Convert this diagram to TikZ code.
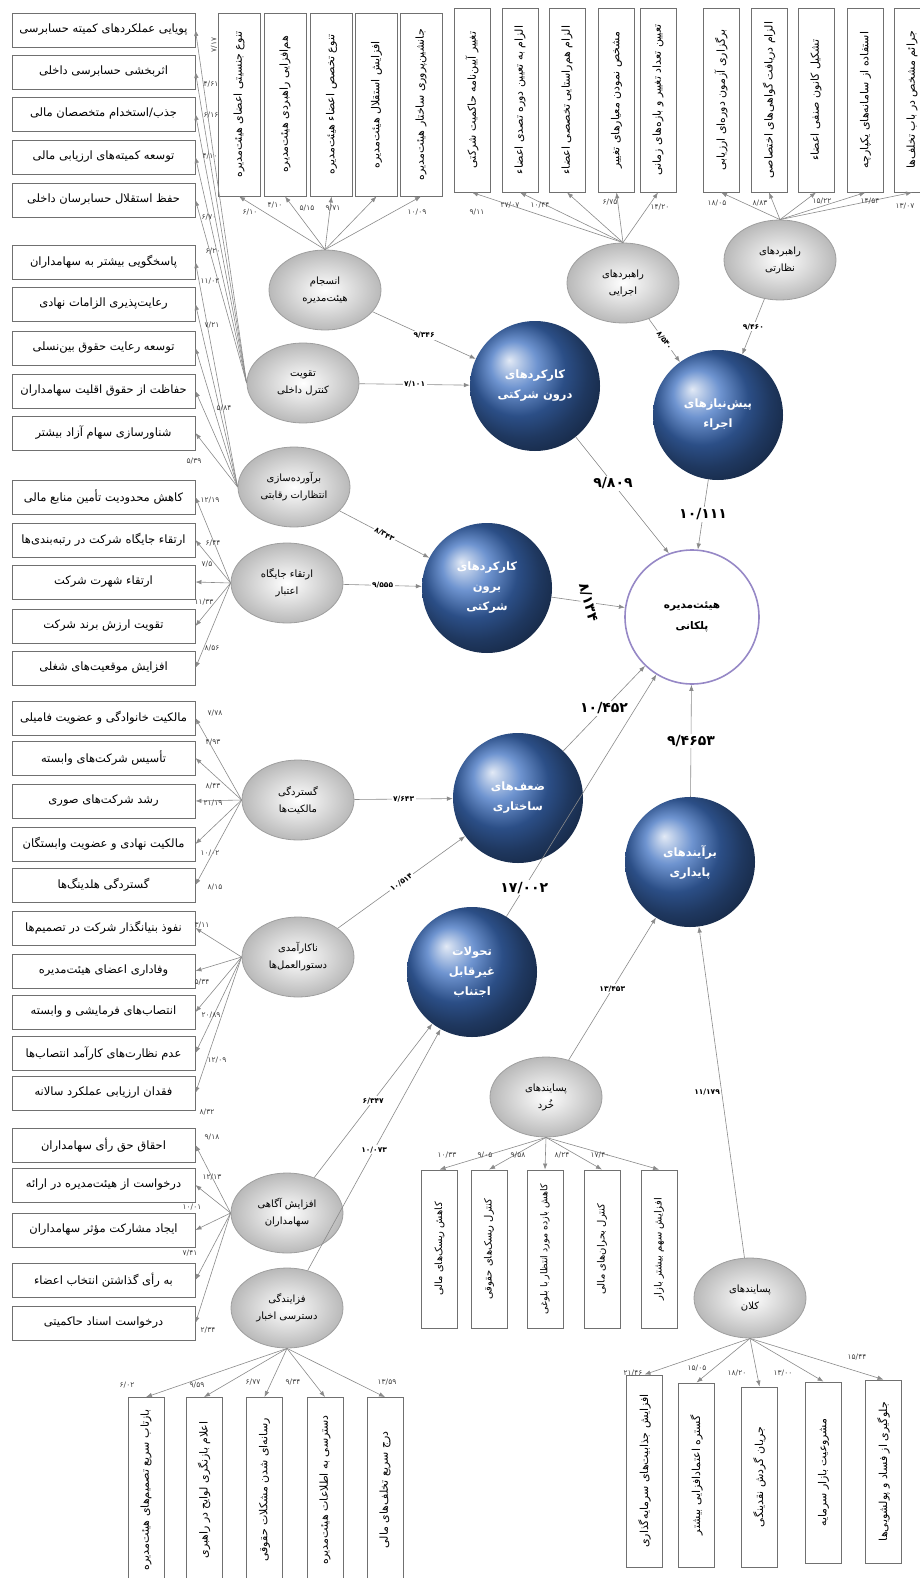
\documentclass[tikz,border=0pt]{standalone}
\usepackage{fontspec}
\usepackage{xcolor}
\usepackage{tikz}
\usetikzlibrary{arrows.meta,shapes.geometric}
\TeXXeTstate=1
\newfontfamily\fafont[Script=Arabic]{DejaVu Sans}
\definecolor{ballblue}{RGB}{62,112,192}
\definecolor{linkgray}{RGB}{138,138,138}
\definecolor{boxgray}{RGB}{112,112,112}
\definecolor{heyatrim}{RGB}{150,136,198}
\newcommand{\fl}[1]{\beginR #1\endR}
\newcommand{\sidebox}[3]{\node[sidebox] (#1) at (103.5,#2) {\fl{#3}};}
\newcommand{\upbox}[5][]{\node[upbox,minimum width=#4pt,#1] (#2) at #3 {\fl{#5}};}
\newcommand{\wnum}[4][]{\node[numlbl,#1] (#2) at #3 {#4};}
\tikzset{
  sidebox/.style={draw=boxgray,line width=0.9pt,fill=white,minimum width=183pt,
    minimum height=34pt,inner sep=1pt,font=\fafont\fontsize{11.5}{13}\selectfont},
  upbox/.style={sidebox,rotate=90,minimum height=36pt,font=\fafont\fontsize{11}{13}\selectfont},
  greyball/.style={ellipse,draw=gray!75,line width=0.8pt,inner color=white,outer color=gray!55,
    minimum width=112pt,minimum height=80pt,inner sep=1pt,align=center,
    font=\fafont\fontsize{10}{17}\selectfont},
  blueball/.style={circle,ball color=ballblue,minimum size=130pt,inner sep=1pt,align=center,
    text=white,font=\fafont\bfseries\fontsize{11.5}{20}\selectfont},
  link/.style={draw=linkgray,line width=0.6pt,-{Latex[length=6pt,width=4.5pt]}},
  numlbl/.style={inner sep=0.5pt,text=black!75,font=\fafont\fontsize{7.5}{8}\selectfont},
  midlbl/.style={fill=white,inner sep=1.5pt,font=\fafont\bfseries\fontsize{7.5}{8}\selectfont},
  biglbl/.style={fill=white,inner sep=1.5pt,font=\fafont\bfseries\fontsize{14}{16}\selectfont},
}
\begin{document}
\begin{tikzpicture}[x=1pt,y=-1pt]
  \useasboundingbox (0,0) rectangle (920,1578);
  % left column of indicators
  \sidebox{ctl1}{30}{پویایی عملکردهای کمیته حسابرسی}
  \sidebox{ctl2}{72}{اثربخشی حسابرسی داخلی}
  \sidebox{ctl3}{114}{جذب/استخدام متخصصان مالی}
  \sidebox{ctl4}{157}{توسعه کمیته‌های ارزیابی مالی}
  \sidebox{ctl5}{200}{حفظ استقلال حسابرسان داخلی}
  \sidebox{exp1}{262}{پاسخگویی بیشتر به سهامداران}
  \sidebox{exp2}{304}{رعایت‌پذیری الزامات نهادی}
  \sidebox{exp3}{348}{توسعه رعایت حقوق بین‌نسلی}
  \sidebox{exp4}{391}{حفاظت از حقوق اقلیت سهامداران}
  \sidebox{exp5}{433}{شناورسازی سهام آزاد بیشتر}
  \sidebox{rep1}{497}{کاهش محدودیت تأمین منابع مالی}
  \sidebox{rep2}{540}{ارتقاء جایگاه شرکت در رتبه‌بندی‌ها}
  \sidebox{rep3}{582}{ارتقاء شهرت شرکت}
  \sidebox{rep4}{626}{تقویت ارزش برند شرکت}
  \sidebox{rep5}{668}{افزایش موقعیت‌های شغلی}
  \sidebox{own1}{718}{مالکیت خانوادگی و عضویت فامیلی}
  \sidebox{own2}{758}{تأسیس شرکت‌های وابسته}
  \sidebox{own3}{801}{رشد شرکت‌های صوری}
  \sidebox{own4}{844}{مالکیت نهادی و عضویت وابستگان}
  \sidebox{own5}{885}{گستردگی هلدینگ‌ها}
  \sidebox{ins1}{928}{نفوذ بنیانگذار شرکت در تصمیم‌ها}
  \sidebox{ins2}{971}{وفاداری اعضای هیئت‌مدیره}
  \sidebox{ins3}{1012}{انتصاب‌های فرمایشی و وابسته}
  \sidebox{ins4}{1053}{عدم نظارت‌های کارآمد انتصاب‌ها}
  \sidebox{ins5}{1093}{فقدان ارزیابی عملکرد سالانه}
  \sidebox{awr1}{1145}{احقاق حق رأی سهامداران}
  \sidebox{awr2}{1185}{درخواست از هیئت‌مدیره در ارائه}
  \sidebox{awr3}{1230}{ایجاد مشارکت مؤثر سهامداران}
  \sidebox{awr4}{1280}{به رأی گذاشتن انتخاب اعضاء}
  \sidebox{awr5}{1323}{درخواست اسناد حاکمیتی}
  % top row
  \upbox[minimum height=42pt]{coh1}{(239,104.5)}{183}{تنوع جنسیتی اعضای هیئت‌مدیره}
  \upbox[minimum height=42pt]{coh2}{(285,104.5)}{183}{هم‌افزایی راهبردی هیئت‌مدیره}
  \upbox[minimum height=42pt]{coh3}{(331.5,104.5)}{183}{تنوع تخصص اعضاء هیئت‌مدیره}
  \upbox[minimum height=42pt]{coh4}{(376.5,104.5)}{183}{افزایش استقلال هیئت‌مدیره}
  \upbox[minimum height=42pt]{coh5}{(421,104.5)}{183}{جانشین‌پروری ساختار هیئت‌مدیره}
  \upbox{exe1}{(472,100)}{184}{تغییر آیین‌نامه حاکمیت شرکتی}
  \upbox{exe2}{(520,100)}{184}{الزام به تعیین دوره تصدی اعضاء}
  \upbox{exe3}{(567,100)}{184}{الزام هم‌راستایی تخصصی اعضاء}
  \upbox{exe4}{(616.5,100)}{184}{مشخص نمودن معیارهای تغییر}
  \upbox{exe5}{(658,100)}{184}{تعیین تعداد تغییر و بازه‌های زمانی}
  \upbox{sup1}{(721,100)}{184}{برگزاری آزمون دوره‌ای ارزیابی}
  \upbox{sup2}{(769,100)}{184}{الزام دریافت گواهی‌های اختصاصی}
  \upbox{sup3}{(816,100)}{184}{تشکیل کانون صنفی اعضاء}
  \upbox{sup4}{(865.5,100)}{184}{استفاده از سامانه‌های یکپارچه}
  \upbox{sup5}{(912,100)}{184}{جرائم مشخص در باب تخلف‌ها}
  % bottom rows
  \upbox{nws1}{(146,1490)}{185}{بازتاب سریع تصمیم‌های هیئت‌مدیره}
  \upbox{nws2}{(204,1490)}{185}{اعلام بازنگری لوایح در راهبری}
  \upbox{nws3}{(264.5,1490)}{185}{رسانه‌ای شدن مشکلات حقوقی}
  \upbox{nws4}{(325,1490)}{185}{دسترسی به اطلاعات هیئت‌مدیره}
  \upbox{nws5}{(385,1490)}{185}{درج سریع تخلف‌های مالی}
  \upbox[font=\fafont\fontsize{10}{12}\selectfont]{mic1}{(439.5,1249)}{158}{کاهش ریسک‌های مالی}
  \upbox[font=\fafont\fontsize{10}{12}\selectfont]{mic2}{(489,1249)}{158}{کنترل ریسک‌های حقوقی}
  \upbox[font=\fafont\fontsize{9.5}{12}\selectfont]{mic3}{(545,1249)}{158}{کاهش بازده مورد انتظار با بلوغی}
  \upbox[font=\fafont\fontsize{10}{12}\selectfont]{mic4}{(602,1249)}{158}{کنترل بحران‌های مالی}
  \upbox[font=\fafont\fontsize{10}{12}\selectfont]{mic5}{(659,1249)}{158}{افزایش سهم بیشتر بازار}
  \upbox{mac1}{(644.5,1471)}{192}{افزایش جذابیت‌های سرمایه‌گذاری}
  \upbox{mac2}{(696.5,1475)}{184}{گستره اعتمادافزایی بیشتر}
  \upbox{mac3}{(759.5,1477)}{180}{جریان گردش نقدینگی}
  \upbox{mac4}{(823.5,1472.5)}{181}{مشروعیت بازار سرمایه}
  \upbox{mac5}{(883.5,1471.5)}{183}{جلوگیری از فساد و پولشویی‌ها}
  % dimensions
  \node[greyball] (ensejam) at (325,290) {\fl{انسجام}\\\fl{هیئت‌مدیره}};
  \node[greyball] (taghviat) at (303,383) {\fl{تقویت}\\\fl{کنترل داخلی}};
  \node[greyball] (bravarde) at (294,487) {\fl{برآورده‌سازی}\\\fl{انتظارات رقابتی}};
  \node[greyball] (ertegha) at (287,583) {\fl{ارتقاء جایگاه}\\\fl{اعتبار}};
  \node[greyball] (rahbordEjra) at (623,283) {\fl{راهبردهای}\\\fl{اجرایی}};
  \node[greyball] (rahbordNezarat) at (780,260) {\fl{راهبردهای}\\\fl{نظارتی}};
  \node[greyball] (gostardegi) at (298,800) {\fl{گستردگی}\\\fl{مالکیت‌ها}};
  \node[greyball] (nakaramadi) at (298,957) {\fl{ناکارآمدی}\\\fl{دستورالعمل‌ها}};
  \node[greyball] (khord) at (546,1097) {\fl{پسایندهای}\\\fl{خُرد}};
  \node[greyball] (agahi) at (287,1213) {\fl{افزایش آگاهی}\\\fl{سهامداران}};
  \node[greyball] (fazayandegi) at (287,1308) {\fl{فزایندگی}\\\fl{دسترسی اخبار}};
  \node[greyball] (kalan) at (750,1298) {\fl{پسایندهای}\\\fl{کلان}};
  % categories
  \node[blueball] (daroon) at (535,386) {\fl{کارکردهای}\\\fl{درون شرکتی}};
  \node[blueball] (pishniaz) at (718,415) {\fl{پیش‌نیازهای}\\\fl{اجراء}};
  \node[blueball] (boroon) at (487,588) {\fl{کارکردهای}\\\fl{برون}\\\fl{شرکتی}};
  \node[blueball] (zaaf) at (518,798) {\fl{ضعف‌های}\\\fl{ساختاری}};
  \node[blueball] (barayand) at (690,862) {\fl{برآیندهای}\\\fl{پایداری}};
  \node[blueball] (tahavolat) at (472,972) {\fl{تحولات}\\\fl{غیرقابل}\\\fl{اجتناب}};
  \node[circle,draw=heyatrim,line width=1.6pt,fill=white,minimum size=134pt,align=center,
    font=\fafont\bfseries\fontsize{10.5}{21}\selectfont] (heyat) at (692,617) {\fl{هیئت‌مدیره}\\\fl{پلکانی}};
  % indicator links
  \foreach \b in {ctl1,ctl2,ctl3,ctl4,ctl5} \draw[link] (taghviat.west) -- (\b.east);
  \foreach \b in {exp1,exp2,exp3,exp4,exp5} \draw[link] (bravarde.west) -- (\b.east);
  \foreach \b in {rep1,rep2,rep3,rep4,rep5} \draw[link] (ertegha.west) -- (\b.east);
  \foreach \b in {own1,own2,own3,own4,own5} \draw[link] (gostardegi.west) -- (\b.east);
  \foreach \b in {ins1,ins2,ins3,ins4,ins5} \draw[link] (nakaramadi.west) -- (\b.east);
  \foreach \b in {awr1,awr2,awr3,awr4,awr5} \draw[link] (agahi.west) -- (\b.east);
  \foreach \b in {coh1,coh2,coh3,coh4,coh5} \draw[link] (ensejam.north) -- (\b.west);
  \foreach \b in {exe1,exe2,exe3,exe4,exe5} \draw[link] (rahbordEjra.north) -- (\b.west);
  \foreach \b in {sup1,sup2,sup3,sup4,sup5} \draw[link] (rahbordNezarat.north) -- (\b.west);
  \foreach \b in {nws1,nws2,nws3,nws4,nws5} \draw[link] (fazayandegi.south) -- (\b.east);
  \foreach \b in {mic1,mic2,mic3,mic4,mic5} \draw[link] (khord.south) -- (\b.east);
  \foreach \b in {mac1,mac2,mac3,mac4,mac5} \draw[link] (kalan.south) -- (\b.east);
  % loadings
  \wnum[rotate=90]{lc1}{(214,45)}{۷/۱۷} \wnum{lc2}{(211,84)}{۴/۶۱} \wnum{lc3}{(211,115)}{۶/۱۶}
  \wnum{lc4}{(210,156)}{۴/۱۰} \wnum{lc5}{(209,217)}{۶/۷۰}
  \wnum{le1}{(213,251)}{۶/۲۰} \wnum{le2}{(210,281)}{۱۱/۰۲} \wnum{le3}{(212,325)}{۷/۲۱}
  \wnum{le4}{(224,408)}{۵/۸۴} \wnum{le5}{(194,461)}{۵/۳۹}
  \wnum{lr1}{(210,500)}{۱۲/۱۹} \wnum{lr2}{(213,543)}{۶/۴۴} \wnum{lr3}{(207,564)}{۷/۵}
  \wnum{lr4}{(204,602)}{۱۱/۳۳} \wnum{lr5}{(212,648)}{۸/۵۶}
  \wnum{lo1}{(215,713)}{۷/۷۸} \wnum{lo2}{(213,742)}{۴/۹۳} \wnum{lo3}{(213,786)}{۸/۴۳}
  \wnum{lo4}{(213,803)}{۲۱/۱۹} \wnum{lo5}{(210,853)}{۱۰/۰۲} \wnum{lo6}{(215,887)}{۸/۱۵}
  \wnum{li1}{(202,925)}{۳/۱۱} \wnum{li2}{(202,982)}{۵/۳۴} \wnum{li3}{(211,1015)}{۲۰/۸۹}
  \wnum{li4}{(217,1060)}{۱۲/۰۹} \wnum{li5}{(207,1112)}{۸/۳۲}
  \wnum{la1}{(212,1137)}{۹/۱۸} \wnum{la2}{(212,1177)}{۱۲/۱۳} \wnum{la3}{(192,1207)}{۱۰/۰۱}
  \wnum{la4}{(190,1253)}{۷/۴۱} \wnum{la5}{(208,1330)}{۲/۳۴}
  \wnum{th1}{(250,212)}{۶/۱۰} \wnum{th2}{(275,205)}{۴/۱۰} \wnum{th3}{(307,208)}{۵/۱۵}
  \wnum{th4}{(333,208)}{۹/۷۱} \wnum{th5}{(417,212)}{۱۰/۰۹}
  \wnum{te1}{(477,212)}{۹/۱۱} \wnum{te2}{(510,205)}{۲۷/۰۷} \wnum{te3}{(540,205)}{۱۰/۴۴}
  \wnum{te4}{(610,202)}{۶/۷۵} \wnum{te5}{(660,207)}{۱۴/۲۰}
  \wnum{ts1}{(717,203)}{۱۸/۰۵} \wnum{ts2}{(760,203)}{۸/۸۳} \wnum{ts3}{(822,201)}{۱۵/۲۲}
  \wnum{ts4}{(870,201)}{۱۴/۵۴} \wnum{ts5}{(905,206)}{۱۳/۰۷}
  \wnum{bn1}{(127,1385)}{۶/۰۲} \wnum{bn2}{(197,1385)}{۹/۵۹} \wnum{bn3}{(253,1382)}{۶/۷۷}
  \wnum{bn4}{(293,1382)}{۹/۳۴} \wnum{bn5}{(387,1382)}{۱۳/۵۹}
  \wnum{bm1}{(447,1155)}{۱۰/۳۳} \wnum{bm2}{(485,1155)}{۹/۰۵} \wnum{bm3}{(518,1155)}{۹/۵۸}
  \wnum{bm4}{(562,1155)}{۸/۲۴} \wnum{bm5}{(600,1155)}{۱۷/۴۰}
  \wnum{bk1}{(633,1373)}{۲۱/۴۶} \wnum{bk2}{(697,1368)}{۱۵/۰۵} \wnum{bk3}{(737,1373)}{۱۸/۲۰}
  \wnum{bk4}{(783,1373)}{۱۳/۰۰} \wnum{bk5}{(857,1357)}{۱۵/۴۴}
  % dimension to category
  \draw[link] (ensejam) -- node[midlbl] (wEns) {۹/۳۴۶} (daroon);
  \draw[link] (taghviat) -- node[midlbl] (wTag) {۷/۱۰۱} (daroon);
  \draw[link] (bravarde) -- node[midlbl,sloped] (wBra) {۸/۳۴۳} (boroon);
  \draw[link] (ertegha) -- node[midlbl] (wErt) {۹/۵۵۵} (boroon);
  \draw[link] (rahbordEjra) -- node[midlbl,sloped] (wEjr) {۸/۵۴۰} (pishniaz);
  \draw[link] (rahbordNezarat) -- node[midlbl] (wNez) {۹/۴۶۰} (pishniaz);
  \draw[link] (gostardegi) -- node[midlbl] (wGos) {۷/۶۴۳} (zaaf);
  \draw[link] (nakaramadi) -- node[midlbl,sloped] (wNak) {۱۰/۵۱۴} (zaaf);
  \draw[link] (agahi) -- node[midlbl] (wAga) {۶/۳۴۷} (tahavolat);
  \draw[link] (fazayandegi) -- node[midlbl] (wFaz) {۱۰/۰۷۳} (tahavolat);
  \draw[link] (khord) -- node[midlbl] (wKho) {۱۳/۴۵۳} (barayand);
  \draw[link] (kalan) -- node[midlbl,left] (wKal) {۱۱/۱۷۹} (barayand);
  % category to core
  \draw[link] (daroon) -- node[biglbl,pos=0.4] (wDar) {۹/۸۰۹} (heyat.110);
  \draw[link] (pishniaz) -- node[biglbl] (wPis) {۱۰/۱۱۱} (heyat.85);
  \draw[link] (boroon) -- node[biglbl,rotate=-75] (wBor) {۸/۱۳۴} (heyat);
  \draw[link] (zaaf) -- node[biglbl] (wZaa) {۱۰/۴۵۲} (heyat);
  \draw[link] (barayand) -- node[biglbl] (wBar) {۹/۴۶۵۳} (heyat);
  \draw[link] (tahavolat) -- node[biglbl,pos=0.12] (wTah) {۱۷/۰۰۲} (heyat);
\end{tikzpicture}
\end{document}
